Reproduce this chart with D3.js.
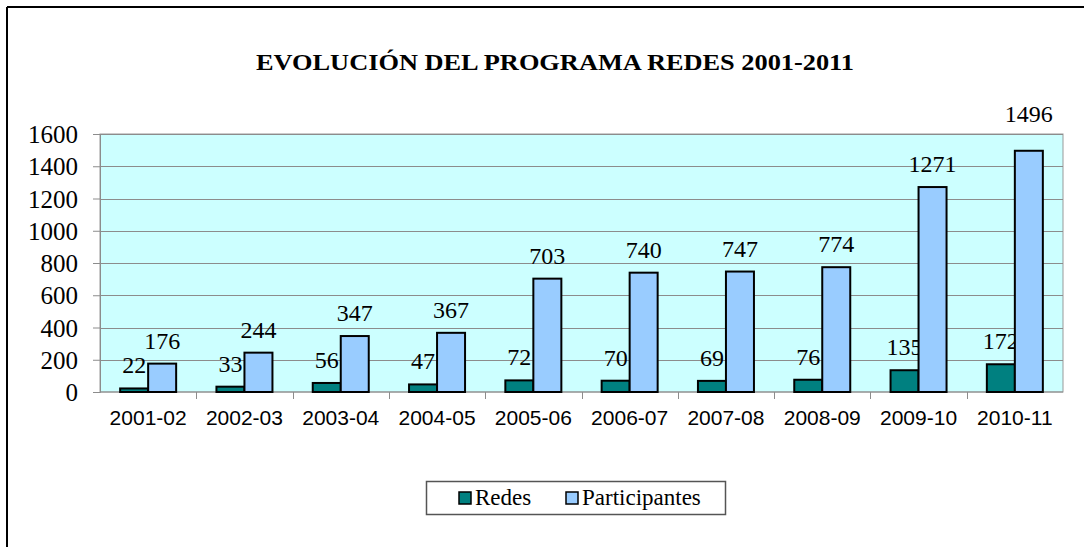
<!DOCTYPE html>
<html>
<head>
<meta charset="utf-8">
<title>Evolución del Programa Redes</title>
<script src="https://cdn.jsdelivr.net/npm/d3@7"></script>
<style>
  body { margin: 0; background: #fff; }
  svg text { fill: #000; }
</style>
</head>
<body>
<div id="chart"></div>
<script>
var width = 1084, height = 547;
var serif = "'Liberation Serif', 'Times New Roman', Times, serif";
var sans = "'Liberation Sans', Arial, Helvetica, sans-serif";

// data
var seasons = ["2001-02", "2002-03", "2003-04", "2004-05", "2005-06",
               "2006-07", "2007-08", "2008-09", "2009-10", "2010-11"];
var redes = [22, 33, 56, 47, 72, 70, 69, 76, 135, 172];
var participantes = [176, 244, 347, 367, 703, 740, 747, 774, 1271, 1496];
var yTicks = [0, 200, 400, 600, 800, 1000, 1200, 1400, 1600];
var seriesNames = ["Redes", "Participantes"];
var seriesColors = ["#008080", "#99CCFF"];

var plot = { left: 100, right: 1063, top: 134, bottom: 392 };

var svg = d3.select("#chart").append("svg")
  .attr("width", width)
  .attr("height", height);

// outer frame (only top and left edges visible)
svg.append("line").attr("x1", 7).attr("x2", width).attr("y1", 7).attr("y2", 7)
  .attr("stroke", "#000").attr("stroke-width", 2);
svg.append("line").attr("x1", 7).attr("x2", 7).attr("y1", 7).attr("y2", height)
  .attr("stroke", "#000").attr("stroke-width", 2);

svg.append("text")
  .attr("x", 555).attr("y", 70)
  .attr("text-anchor", "middle")
  .style("font-family", serif)
  .style("font-weight", "bold")
  .style("font-size", "24px")
  .attr("textLength", 598)
  .attr("lengthAdjust", "spacingAndGlyphs")
  .text("EVOLUCIÓN DEL PROGRAMA REDES 2001-2011");

var x = d3.scaleBand().domain(seasons).range([plot.left, plot.right]);
var y = d3.scaleLinear().domain([0, 1600]).range([plot.bottom, plot.top]);
var barW = 28;

// plot background
svg.append("rect")
  .attr("x", plot.left).attr("y", plot.top)
  .attr("width", plot.right - plot.left).attr("height", plot.bottom - plot.top)
  .attr("fill", "#CCFFFF")
  .attr("stroke", "#999").attr("stroke-width", 1);

// gridlines
svg.append("g").selectAll("line")
  .data(yTicks.slice(1))
  .join("line")
  .attr("x1", plot.left).attr("x2", plot.right)
  .attr("y1", function(d) { return Math.round(y(d)) + 0.5; })
  .attr("y2", function(d) { return Math.round(y(d)) + 0.5; })
  .attr("stroke", "#8c8c8c");

// y axis
var yAxis = svg.append("g")
  .attr("transform", "translate(" + plot.left + ",0)")
  .call(d3.axisLeft(y).tickValues(yTicks).tickSize(7).tickPadding(15).tickFormat(d3.format("d")));
yAxis.select(".domain").attr("stroke", "#8c8c8c");
yAxis.selectAll(".tick line").attr("stroke", "#8c8c8c");
yAxis.selectAll(".tick text")
  .style("font-family", serif)
  .style("font-size", "25px")
  .attr("dy", "0.34em");

// x axis: ticks sit on the category boundaries
var xAxis = svg.append("g")
  .attr("transform", "translate(0," + plot.bottom + ")");
xAxis.append("line")
  .attr("x1", plot.left).attr("x2", plot.right)
  .attr("stroke", "#8c8c8c");
xAxis.selectAll(".bound")
  .data(seasons.slice(1))
  .join("line")
  .attr("class", "bound")
  .attr("x1", function(d) { return Math.round(x(d)) + 0.5; })
  .attr("x2", function(d) { return Math.round(x(d)) + 0.5; })
  .attr("y1", 0).attr("y2", 7)
  .attr("stroke", "#8c8c8c");
xAxis.selectAll(".xlab")
  .data(seasons)
  .join("text")
  .attr("class", "xlab")
  .attr("x", function(d) { return x(d) + x.bandwidth() / 2; })
  .attr("y", 33)
  .attr("text-anchor", "middle")
  .style("font-family", sans)
  .style("font-size", "21px")
  .text(function(d) { return d; });

// bars
var series = [redes, participantes];
series.forEach(function(vals, si) {
  var g = svg.append("g");
  var off = si === 0 ? -barW : 0;
  g.selectAll("rect")
    .data(vals)
    .join("rect")
    .attr("x", function(d, i) { return x(seasons[i]) + x.bandwidth() / 2 + off; })
    .attr("y", function(d) { return y(d); })
    .attr("width", barW)
    .attr("height", function(d) { return plot.bottom - y(d); })
    .attr("fill", seriesColors[si])
    .attr("stroke", "#000")
    .attr("stroke-width", 2);
  g.selectAll("text")
    .data(vals)
    .join("text")
    .attr("x", function(d, i) { return x(seasons[i]) + x.bandwidth() / 2 + off + barW / 2; })
    .attr("y", function(d) {
      // labels that would hit the plot top get pushed above the frame
      var ly = y(d) - 15;
      return ly < plot.top + 10 ? plot.top - 12 : ly;
    })
    .attr("text-anchor", "middle")
    .style("font-family", serif)
    .style("font-size", "24px")
    .text(function(d) { return d; });
});

// legend
var legend = svg.append("g");
legend.append("rect")
  .attr("x", 426.5).attr("y", 481.5).attr("width", 299).attr("height", 33)
  .attr("fill", "#fff").attr("stroke", "#555").attr("stroke-width", 1.5);
var legX = [459, 566];
seriesNames.forEach(function(name, i) {
  legend.append("rect")
    .attr("x", legX[i]).attr("y", 492).attr("width", 12).attr("height", 12)
    .attr("fill", seriesColors[i]).attr("stroke", "#000").attr("stroke-width", 1.5);
  legend.append("text")
    .attr("x", legX[i] + 16).attr("y", 505)
    .style("font-family", serif)
    .style("font-size", "23px")
    .text(name);
});
</script>
</body>
</html>
